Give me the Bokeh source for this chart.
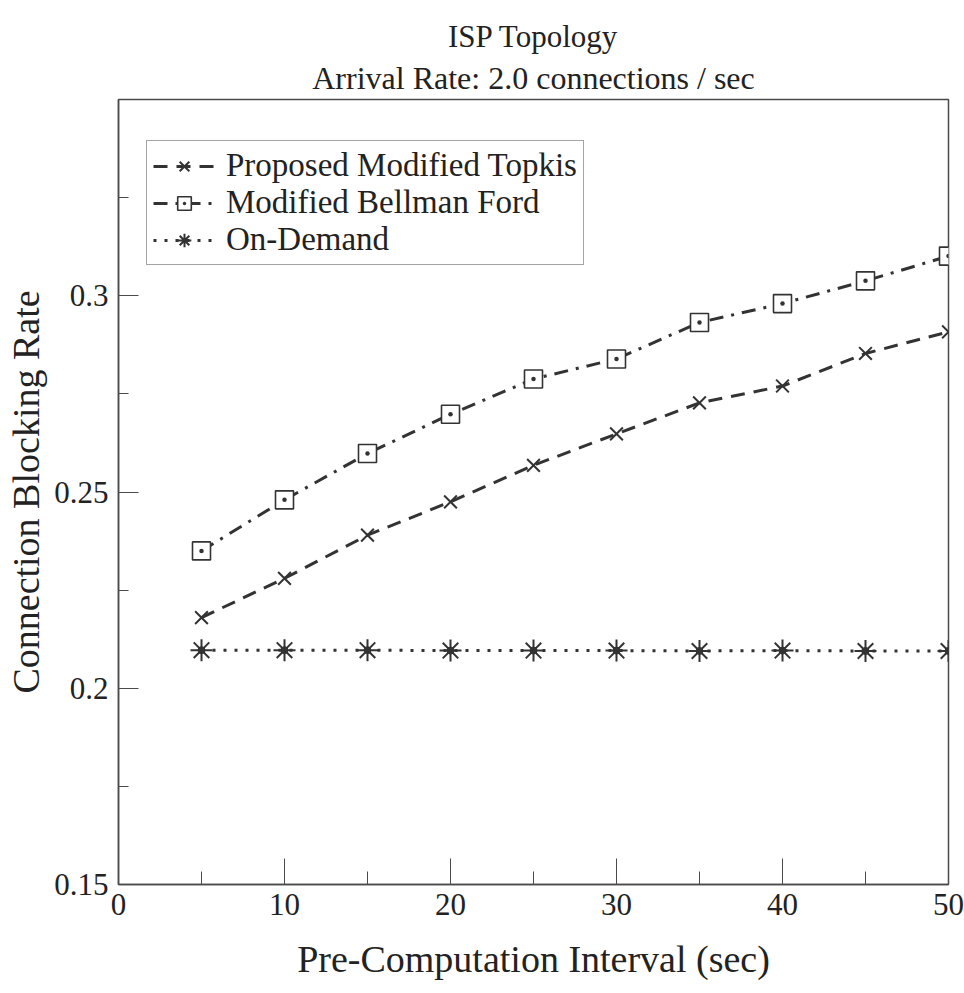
from bokeh.plotting import figure
from bokeh.models import FixedTicker, Legend, LegendItem, Title, Range1d
from bokeh.embed import file_html
from bokeh.resources import INLINE

# ---- data ----
intervals = [5, 10, 15, 20, 25, 30, 35, 40, 45, 50]
topkis = [0.218, 0.228, 0.239, 0.2475, 0.2568, 0.2648, 0.2727, 0.277, 0.2853, 0.2908]
bellman = [0.235, 0.248, 0.2598, 0.2698, 0.2788, 0.2839, 0.2932, 0.298, 0.3038, 0.3101]
ondemand = [0.2097, 0.2097, 0.2097, 0.2096, 0.2096, 0.2096, 0.2095, 0.2096, 0.2095, 0.2095]
series_names = ["Proposed Modified Topkis", "Modified Bellman Ford", "On-Demand"]
x_ticks = [0, 10, 20, 30, 40, 50]
x_minor = [5, 15, 25, 35, 45]
y_ticks = [0.15, 0.2, 0.25, 0.3]
y_minor = [0.175, 0.225, 0.275, 0.325]

FONT = "Liberation Serif"
INK = "#333333"
FRAME = "#4a4a4a"

p = figure(width=964, height=993, output_backend="svg", toolbar_location=None,
           x_range=Range1d(0, 50), y_range=Range1d(0.15, 0.35),
           min_border_left=118, min_border_right=16, min_border_top=99,
           min_border_bottom=109)
p.grid.visible = False
p.outline_line_color = FRAME
p.outline_line_width = 1.5
p.background_fill_color = "white"
p.border_fill_color = "white"

p.add_layout(Title(text="Arrival Rate: 2.0 connections / sec", align="center",
                   text_font=FONT, text_font_size="32px", text_font_style="normal",
                   text_color="#222222", standoff=8), "above")
p.add_layout(Title(text="ISP Topology", align="center",
                   text_font=FONT, text_font_size="31px", text_font_style="normal",
                   text_color="#222222", standoff=0), "above")

for ax in (p.xaxis[0], p.yaxis[0]):
    ax.axis_line_color = FRAME
    ax.axis_line_width = 1.5
    ax.major_tick_line_color = FRAME
    ax.minor_tick_line_color = FRAME
    ax.major_tick_out = 0
    ax.minor_tick_out = 0
    ax.major_label_text_font = FONT
    ax.major_label_text_font_size = "31px"
    ax.major_label_text_color = "#222222"
    ax.axis_label_text_font = FONT
    ax.axis_label_text_font_style = "normal"
    ax.axis_label_text_font_size = "38px"
    ax.axis_label_text_color = "#222222"

p.xaxis[0].ticker = FixedTicker(ticks=x_ticks, minor_ticks=x_minor)
p.xaxis[0].major_tick_in = 26
p.xaxis[0].minor_tick_in = 13
p.xaxis[0].major_label_standoff = 9
p.xaxis[0].axis_label = "Pre-Computation Interval (sec)"
p.xaxis[0].axis_label_standoff = 20

p.yaxis[0].ticker = FixedTicker(ticks=y_ticks, minor_ticks=y_minor)
p.yaxis[0].major_tick_in = 20
p.yaxis[0].minor_tick_in = 10
p.yaxis[0].major_label_standoff = 10
p.yaxis[0].axis_label = "Connection Blocking Rate"
p.yaxis[0].axis_label_standoff = 4

l1 = p.line(intervals, topkis, line_color=INK, line_width=3, line_dash="14 9")
m1 = p.scatter(intervals, topkis, marker="x", size=18, line_color=INK, line_width=2)
l2 = p.line(intervals, bellman, line_color=INK, line_width=3, line_dash="14 8 3 8")
m2 = p.scatter(intervals, bellman, marker="square_dot", size=18, line_color=INK,
               fill_color="white", line_width=1.6)
l3 = p.line(intervals, ondemand, line_color=INK, line_width=3, line_dash="3 8")
m3 = p.scatter(intervals, ondemand, marker="asterisk", size=22, line_color=INK, line_width=2)
m3b = p.scatter(intervals, ondemand, marker="circle", size=7, line_color=INK, fill_color=INK)

legend = Legend(items=[LegendItem(label=series_names[0], renderers=[l1, m1]),
                       LegendItem(label=series_names[1], renderers=[l2, m2]),
                       LegendItem(label=series_names[2], renderers=[l3, m3])],
                location=(28, 619))
legend.label_text_font = FONT
legend.label_text_font_size = "33px"
legend.label_text_color = "#222222"
legend.border_line_color = FRAME
legend.border_line_width = 1.2
legend.background_fill_color = "white"
legend.background_fill_alpha = 1.0
legend.glyph_width = 62
legend.glyph_height = 34
legend.label_height = 34
legend.label_standoff = 11
legend.spacing = 0
legend.padding = 6
legend.margin = 0
p.add_layout(legend, "center")

open("out.html", "w").write(file_html(p, INLINE))
